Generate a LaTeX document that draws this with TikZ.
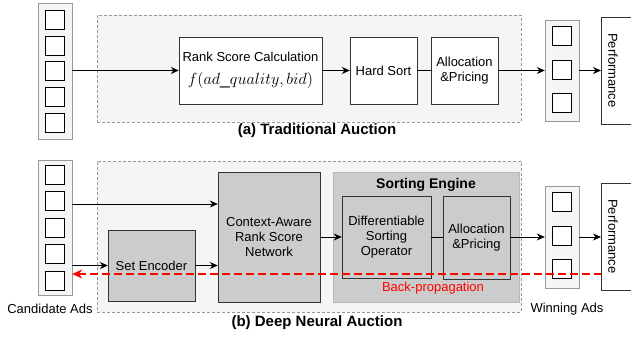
\documentclass[tikz,border=0pt]{standalone}
\usepackage{fontspec}
\setmainfont{Liberation Sans}
\usepackage{amsmath}
\usepackage{graphicx}
\usepackage{tikz}
\usetikzlibrary{arrows.meta,calc}
\definecolor{regionfill}{HTML}{F5F5F5}
\definecolor{boxgray}{HTML}{CCCCCC}
\definecolor{edgegray}{HTML}{999999}

\begin{document}
\begin{tikzpicture}
[
	x=1pt, y=-1pt,
	font=\fontsize{13}{15}\selectfont,
	region/.style = {draw=edgegray, dash pattern=on 3pt off 2pt, fill=regionfill, minimum width=424pt, inner sep=0pt},
	adcol/.style = {draw=edgegray, fill=regionfill, minimum width=34pt, inner sep=0pt},
	adslot/.style = {draw=black, fill=white, minimum size=19pt, inner sep=0pt},
	stage/.style = {draw=black!80, fill=white, align=center, inner sep=0pt, minimum height=67pt},
	netbox/.style = {draw=black!80, fill=boxgray, align=center, inner sep=0pt},
	perfbox/.style = {draw=black!80, fill=white, minimum width=50pt, minimum height=107pt, anchor=west},
	flow/.style = {line width=0.8pt, -{Stealth[length=8pt,width=7pt]}},
	title/.style = {font=\fontsize{15}{18}\selectfont\bfseries},
	backprop/.style = {red, line width=1.5pt, dash pattern=on 8pt off 4pt, {Stealth[length=10pt,width=9pt]}-},
]
\useasboundingbox (0,0) rectangle (631,337);

% (a) traditional auction
\node[region, minimum height=107pt] (regionA) at (309,68.5) {};
\node[adcol, minimum height=136pt] (candA) at (55,71) {};
\foreach \i/\y in {1/19.5,2/45.5,3/71,4/96.5,5/122.5}
	\node[adslot] (slotA\i) at (54.5,\y) {};

\node[stage, minimum width=143pt] (rank) at (250.5,70.5) {Rank Score Calculation\\[8pt]\scalebox{1.35}{$f(ad\_quality, bid)$}};
\node[stage, minimum width=67pt] (hardsort) at (383.5,70.5) {Hard Sort};
\node[stage, minimum width=67pt] (allocA) at (464.5,70.5) {Allocation\\\&Pricing};

\node[adcol, minimum height=101pt] (winA) at (562,70.5) {};
\foreach \i/\y in {1/36,2/70,3/103}
	\node[adslot] (winslotA\i) at (561.5,\y) {};
\node[perfbox] (perfA) at (601,70.5) {};
\node[rotate=-90] (perftextA) at (613,70.5) {Performance};

\draw[flow] (candA.east |- rank) -- (rank.west);
\draw[flow] (rank.east) -- (hardsort.west);
\draw[line width=0.8pt] (hardsort.east) -- (allocA.west);
\draw[flow] (allocA.east) -- (allocA.east -| winA.west);
\draw[flow] (winA.east) -- (winA.east -| perfA.west);

\node[title] (titleA) at (317,131) {(a) Traditional Auction};

% (b) deep neural auction
\node[region, minimum height=151pt] (regionB) at (309,236.5) {};
\node[adcol, minimum height=135pt] (candB) at (55,227.5) {};
\foreach \i/\y in {1/174.5,2/200.5,3/227.5,4/253.5,5/280.5}
	\node[adslot] (slotB\i) at (54.5,\y) {};
\node (candlabel) at (50,309) {Candidate Ads};

\node[netbox, minimum width=87pt, minimum height=71pt] (setenc) at (151.5,265.5) {Set Encoder};
\node[netbox, minimum width=102pt, minimum height=130pt] (ctxnet) at (269,237) {Context-Aware\\Rank Score\\Network};

\node[draw=edgegray!70, fill=boxgray, minimum width=186pt, minimum height=130pt] (engine) at (426,237) {};
\node[font=\fontsize{14}{16}\selectfont\bfseries] (enginetitle) at (426,185) {Sorting Engine};
\node[netbox, minimum width=89pt, minimum height=82pt] (diffsort) at (386.5,237) {Differentiable\\Sorting\\Operator};
\node[netbox, minimum width=67pt, minimum height=83pt] (allocB) at (476.5,237.5) {Allocation\\\&Pricing};

\node[adcol, minimum height=102pt] (winB) at (562,237) {};
\foreach \i/\y in {1/201.5,2/235.5,3/268.5}
	\node[adslot] (winslotB\i) at (561.5,\y) {};
\node (winlabel) at (567,309) {Winning Ads};
\node[perfbox] (perfB) at (601,236.5) {};
\node[rotate=-90] (perftextB) at (613,236.5) {Performance};

\draw[flow] ([yshift=-3.5pt]candB.east |- slotB2) -- ([yshift=-3.5pt]slotB2 -| ctxnet.west);
\draw[flow] (candB.east |- setenc) -- (setenc.west);
\draw[flow] (setenc.east) -- (setenc.east -| ctxnet.west);
\draw[flow] (ctxnet.east) -- (diffsort.west);
\draw[line width=0.8pt] (diffsort.east) -- (diffsort.east -| allocB.west);
\draw[flow] (diffsort.east -| allocB.east) -- (diffsort.east -| winB.west);
\draw[flow] (winB.east) -- (winB.east -| perfB.west);

\coordinate (bp) at (0,274);
\draw[backprop] (candB.east |- bp) -- (perfB.west |- bp);
\node[red] (bplabel) at (433,288) {Back-propagation};

\node[title] (titleB) at (317,323) {(b) Deep Neural Auction};
\end{tikzpicture}
\end{document}
